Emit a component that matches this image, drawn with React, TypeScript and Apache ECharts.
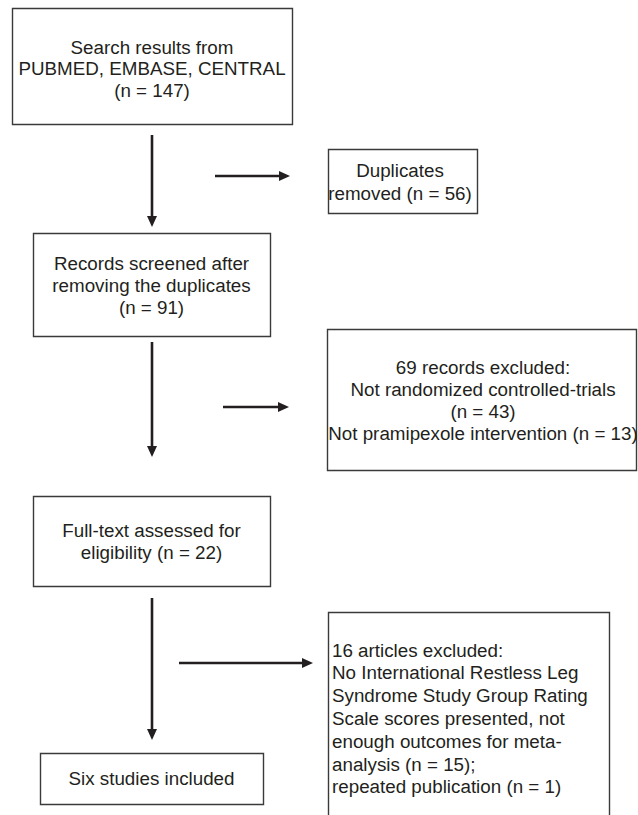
import React, { useEffect, useRef } from "react";
import * as echarts from "echarts";

// ---- Texts of the flow diagram ----
const searchLines = ["Search results from", "PUBMED, EMBASE, CENTRAL", "(n = 147)"];
const duplicateLines = ["Duplicates", "removed (n = 56)"];
const screenedLines = ["Records screened after", "removing the duplicates", "(n = 91)"];
const excludedLines = [
  "69 records excluded:",
  "Not randomized controlled-trials",
  "(n = 43)",
  "Not pramipexole intervention (n = 13)",
];
const fullTextLines = ["Full-text assessed for", "eligibility (n = 22)"];
const includedLines = ["Six studies included"];
const articlesLines = [
  "16 articles excluded:",
  "No International Restless Leg",
  "Syndrome Study Group Rating",
  "Scale scores presented, not",
  "enough outcomes for meta-",
  "analysis (n = 15);",
  "repeated publication (n = 1)",
];

// ---- Layout (pixels) ----
type Box = {
  x: number; y: number; w: number; h: number;
  lines: string[]; firstY: number; step: number;
  align: "center" | "left"; textX: number;
};
const boxes: Box[] = [
  { x: 12, y: 8, w: 280, h: 116, lines: searchLines, firstY: 47, step: 21.5, align: "center", textX: 152 },
  { x: 328, y: 149, w: 149, h: 64, lines: duplicateLines, firstY: 170, step: 23, align: "center", textX: 400 },
  { x: 33, y: 233, w: 237, h: 103, lines: screenedLines, firstY: 263, step: 22, align: "center", textX: 151.5 },
  { x: 327, y: 329, w: 309, h: 141, lines: excludedLines, firstY: 367, step: 22.3, align: "center", textX: 483 },
  { x: 33, y: 496, w: 237, h: 90, lines: fullTextLines, firstY: 530, step: 22, align: "center", textX: 151.5 },
  { x: 40, y: 753, w: 223, h: 51, lines: includedLines, firstY: 778, step: 22, align: "center", textX: 151.5 },
  { x: 328, y: 612, w: 281, h: 230, lines: articlesLines, firstY: 650, step: 22.8, align: "left", textX: 332 },
];

type Arrow = { x1: number; y1: number; x2: number; y2: number };
const arrows: Arrow[] = [
  { x1: 152, y1: 135, x2: 152, y2: 227 },
  { x1: 215, y1: 176, x2: 290, y2: 176 },
  { x1: 152, y1: 342, x2: 152, y2: 457 },
  { x1: 223, y1: 407, x2: 289, y2: 407 },
  { x1: 152, y1: 598, x2: 152, y2: 740 },
  { x1: 179, y1: 663, x2: 313, y2: 663 },
];

const TEXT_COLOR = "#231f20";
const FONT = "Liberation Sans, Arial, Helvetica, sans-serif";
const FONT_SIZE = 18.8;

function buildGraphic() {
  const els: any[] = [];
  boxes.forEach((b) => {
    els.push({
      type: "rect",
      shape: { x: b.x + 0.5, y: b.y + 0.5, width: b.w, height: b.h },
      style: { fill: "#fff", stroke: "#3a3a3a", lineWidth: 1.4 },
      z: 1,
    });
    b.lines.forEach((t, i) => {
      els.push({
        type: "text",
        x: b.textX,
        y: b.firstY + i * b.step,
        style: {
          text: t,
          fill: TEXT_COLOR,
          fontFamily: FONT,
          fontSize: FONT_SIZE,
          align: b.align,
          verticalAlign: "middle",
        },
        z: 2,
      });
    });
  });
  const head = 11;
  const half = 5;
  arrows.forEach((a) => {
    const dx = a.x2 - a.x1;
    const dy = a.y2 - a.y1;
    const len = Math.sqrt(dx * dx + dy * dy);
    const ux = dx / len;
    const uy = dy / len;
    const bx = a.x2 - ux * head;
    const by = a.y2 - uy * head;
    els.push({
      type: "line",
      shape: { x1: a.x1, y1: a.y1, x2: bx, y2: by },
      style: { stroke: TEXT_COLOR, lineWidth: 2.6 },
      z: 3,
    });
    els.push({
      type: "polygon",
      shape: {
        points: [
          [a.x2, a.y2],
          [bx - uy * half, by + ux * half],
          [bx + uy * half, by - ux * half],
        ],
      },
      style: { fill: TEXT_COLOR },
      z: 3,
    });
  });
  return els;
}

export default function App() {
  const ref = useRef<HTMLDivElement>(null);
  useEffect(() => {
    document.body.style.margin = "0";
    if (!ref.current) return;
    const chart = echarts.init(ref.current, undefined, { renderer: "svg" });
    chart.setOption({
      animation: false,
      backgroundColor: "#ffffff",
      graphic: { elements: buildGraphic() },
    });
    return () => chart.dispose();
  }, []);
  return <div ref={ref} style={{ width: 638, height: 815 }} />;
}
